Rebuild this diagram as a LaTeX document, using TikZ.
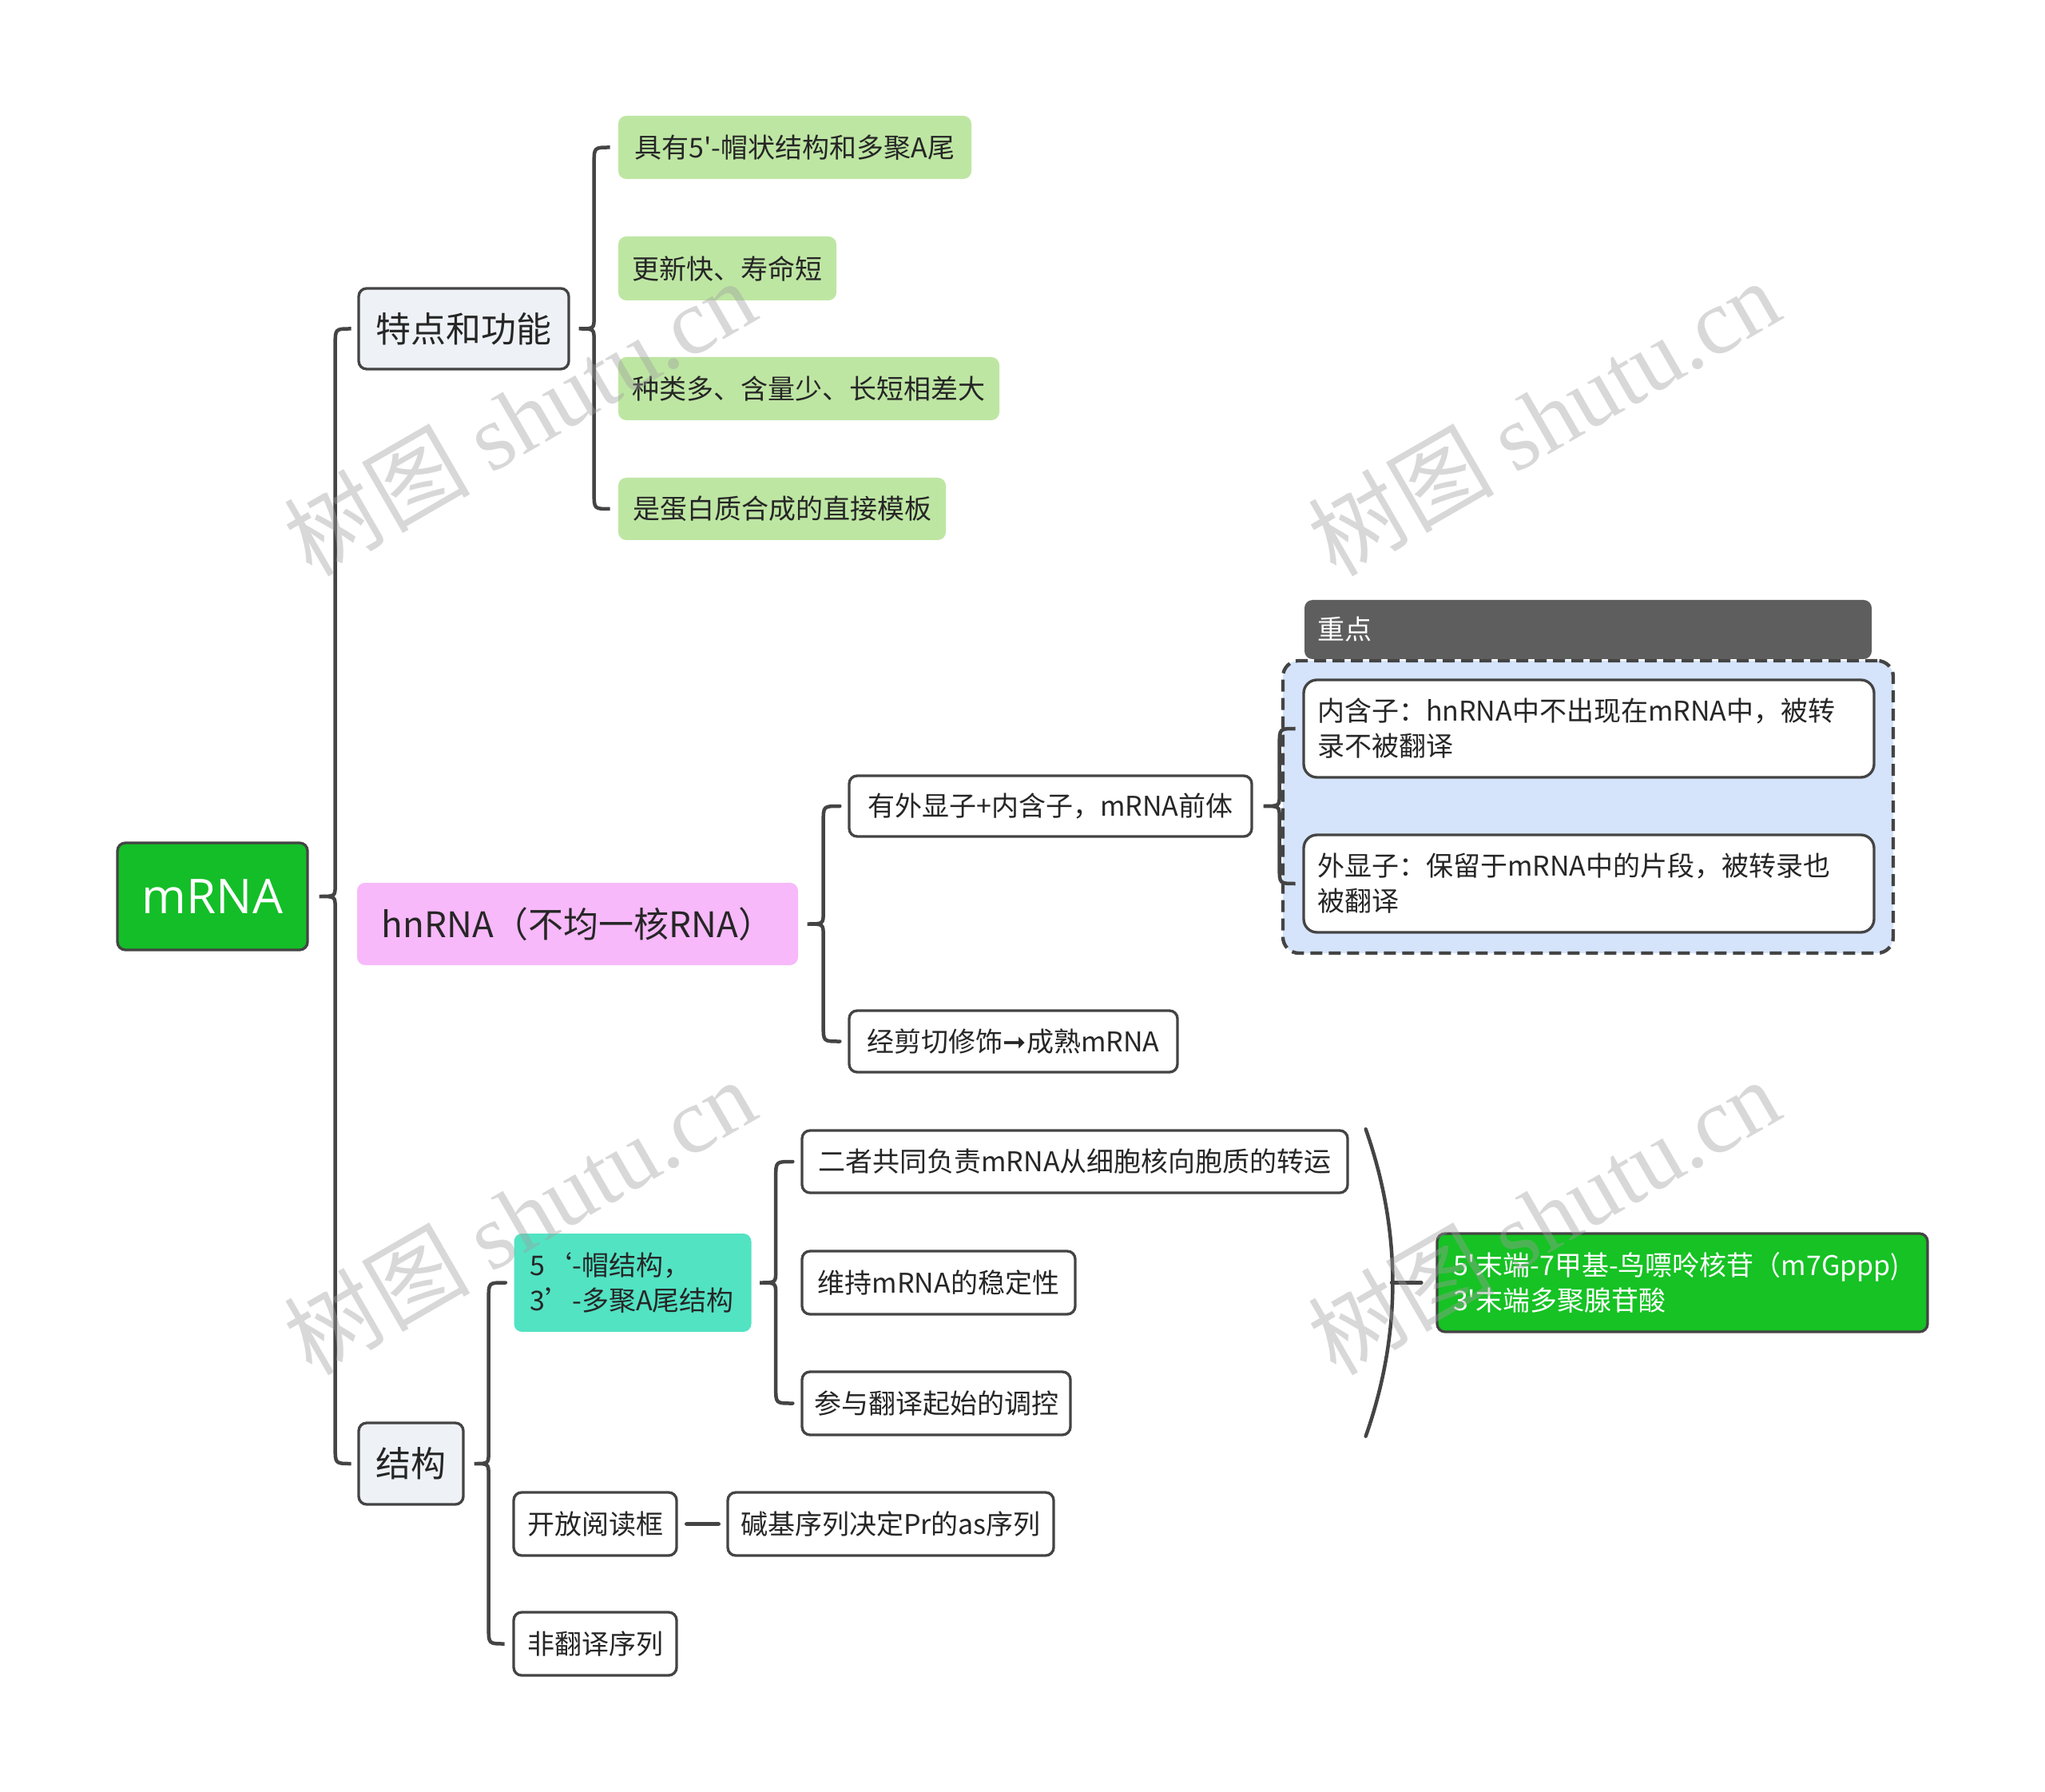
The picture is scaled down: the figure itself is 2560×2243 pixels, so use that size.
\documentclass[tikz,border=0pt]{standalone}
\usepackage{fontspec}
\setmainfont{Noto Sans CJK SC}
\newfontfamily\osans{Open Sans}
\newfontfamily\djv{DejaVu Sans}
\newfontfamily\wmserif{Liberation Serif}
\newfontfamily\wmcjk{Noto Sans CJK SC}
\usetikzlibrary{calc}
\definecolor{lineC}{HTML}{444444}
\definecolor{rootG}{HTML}{14BE28}
\definecolor{endG}{HTML}{16C224}
\definecolor{lvlC}{HTML}{EEF2F6}
\definecolor{pinkC}{HTML}{F7B9F9}
\definecolor{leafG}{HTML}{BEE6A3}
\definecolor{tealC}{HTML}{52E3C3}
\definecolor{grpC}{HTML}{D5E4FB}
\definecolor{hdrC}{HTML}{5E5E5E}
\definecolor{wmC}{HTML}{9E9E9E}
\definecolor{textC}{HTML}{262626}
\newdimen\pxu \pxu=0.3pt
\newcommand\mmbrace[5]{%
  \draw[conn] let \p1=(#1.east), \p2=(#2.west), \p3=(#3.west) in
    (\x2-3pt,\y2) -- (\x1+#5+6pt,\y2) .. controls (\x1+#5,\y2) .. (\x1+#5,\y2-6pt)
    -- (\x1+#5,\y1+4.5pt) .. controls (\x1+#5,\y1) .. (\x1+#4,\y1)
    .. controls (\x1+#5,\y1) .. (\x1+#5,\y1-4.5pt)
    -- (\x1+#5,\y3+6pt) .. controls (\x1+#5,\y3) .. (\x1+#5+6pt,\y3) -- (\x3-3pt,\y3);}
\tikzset{
  base/.style={rounded corners=3pt, inner sep=0pt, align=center, text=textC},
  lvltwo/.style={base, font=\fontsize{10.2}{13.2}\selectfont},
  whitebox/.style={lvltwo, draw=lineC, line width=1pt, fill=white},
  leaf/.style={lvltwo, fill=leafG},
  lvlone/.style={base, font=\fontsize{13.2}{16}\selectfont, draw=lineC, line width=1pt, fill=lvlC},
  conn/.style={draw=lineC, line width=1.35pt, line cap=round},
  wmark/.style={rotate=30, text=wmC, text opacity=0.4, inner sep=0pt},
}
\begin{document}
\begin{tikzpicture}[x=0.3pt, y=-0.3pt]
\useasboundingbox (0,0) rectangle (2560,2243);
\fill[white] (0,0) rectangle (2560,2243);

% root and first level
\node[base, draw=lineC, line width=1pt, fill=rootG, text=white, font=\osans\fontsize{18}{20}\selectfont, minimum width=238\pxu, minimum height=134\pxu] (root) at (266,1122) {mRNA};
\node[lvlone, minimum width=263\pxu, minimum height=101\pxu] (tedian) at (580.5,411.5) {特点和功能};
\node[base, fill=pinkC, font=\fontsize{13.2}{16}\selectfont, minimum width=552\pxu, minimum height=103\pxu] (hn) at (723,1156.5) {hnRNA（不均一核RNA）};
\node[lvlone, minimum width=131\pxu, minimum height=102\pxu] (jg) at (514.5,1832) {结构};

% leaves of 特点和功能
\node[leaf, minimum width=442\pxu, minimum height=79\pxu] (l1) at (995,184.5) {具有5\textquotesingle-帽状结构和多聚A尾};
\node[leaf, minimum width=273\pxu, minimum height=80\pxu] (l2) at (910.5,336) {更新快、寿命短};
\node[leaf, minimum width=477\pxu, minimum height=79\pxu] (l3) at (1012.5,486.5) {种类多、含量少、长短相差大};
\node[leaf, minimum width=410\pxu, minimum height=78\pxu] (l4) at (979,637) {是蛋白质合成的直接模板};

% hnRNA children
\node[whitebox, minimum width=504\pxu, minimum height=76\pxu] (c1) at (1315,1009) {有外显子+内含子，mRNA前体};
\node[whitebox, minimum width=411\pxu, minimum height=77\pxu] (c2) at (1268.5,1303.5) {经剪切修饰{\djv\fontsize{10.5}{12}\selectfont ➞}成熟mRNA};

% summary group
\node[draw=lineC, dash pattern=on 15\pxu off 8\pxu, line width=1.3pt, rounded corners=6pt, fill=grpC, inner sep=0pt, minimum width=764\pxu, minimum height=366\pxu] (grp) at (1988,1010) {};
\node[fill=hdrC, rounded corners=3pt, text=white, font=\fontsize{10.2}{13.2}\selectfont, minimum height=74\pxu, text width=678\pxu, inner xsep=16\pxu, inner ysep=0pt, align=left] (hdr) at (1988,788) {重点};
\node[whitebox, rounded corners=5pt, text width=680\pxu, inner xsep=17\pxu, minimum height=122\pxu, align=left] (in1) at (1989,912) {内含子：hnRNA中不出现在mRNA中，被转\\录不被翻译};
\node[whitebox, rounded corners=5pt, text width=680\pxu, inner xsep=17\pxu, minimum height=122\pxu, align=left] (in2) at (1989,1106) {外显子：保留于mRNA中的片段，被转录也\\被翻译};

% structure branch
\node[lvltwo, fill=tealC, text width=257\pxu, inner xsep=20\pxu, minimum height=123\pxu, align=left] (cap) at (792,1605.5) {5‘-帽结构，\\3’-多聚A尾结构};
\node[whitebox, minimum width=683\pxu, minimum height=78\pxu] (d1) at (1345.5,1454) {二者共同负责mRNA从细胞核向胞质的转运};
\node[whitebox, minimum width=342\pxu, minimum height=79\pxu] (d2) at (1175,1605.5) {维持mRNA的稳定性};
\node[whitebox, minimum width=336\pxu, minimum height=79\pxu] (d3) at (1172,1756.5) {参与翻译起始的调控};
\node[lvltwo, draw=lineC, line width=1pt, fill=endG, text=white, text width=574\pxu, inner xsep=20\pxu, minimum height=123\pxu, align=left] (e) at (2106,1605.5) {\mbox{5\textquotesingle 末端-7甲基-鸟嘌呤核苷（m7Gppp)}\\\mbox{3\textquotesingle 末端多聚腺苷酸}};
\node[whitebox, minimum width=204\pxu, minimum height=79\pxu] (f1) at (745,1907.5) {开放阅读框};
\node[whitebox, minimum width=408\pxu, minimum height=79\pxu] (f2) at (1115,1907.5) {碱基序列决定Pr的as序列};
\node[whitebox, minimum width=204\pxu, minimum height=79\pxu] (f3) at (745,2057.5) {非翻译序列};

% connectors
\mmbrace{root}{tedian}{jg}{3.9pt}{9.9pt}
\mmbrace{tedian}{l1}{l4}{3.3pt}{9pt}
\mmbrace{hn}{c1}{c2}{3.3pt}{9.3pt}
\mmbrace{c1}{in1}{in2}{3.9pt}{9.9pt}
\mmbrace{jg}{cap}{f3}{3.6pt}{9pt}
\mmbrace{cap}{d1}{d3}{3pt}{9pt}
\draw[conn] let \p1=(d1.north east), \p2=(d3.south) in
  (\x1+6.3pt,\y1) .. controls (\x1+19.8pt,{\y1+(\y2-\y1)/3}) and (\x1+19.8pt,{\y2-(\y2-\y1)/3}) .. (\x1+6.3pt,\y2);
\coordinate (pm) at (1742,1605.5);
\draw[conn] (pm) -- ([xshift=-5.4pt]e.west);
\draw[conn, line width=1.6pt] ([xshift=3.3pt]f1.east) -- ([xshift=-3pt]f2.west);

% watermarks
\node[wmark] (wm1) at (650,522) {\wmcjk\fontsize{35}{40}\selectfont 树图 {\wmserif shutu.cn}};
\node[wmark] (wm2) at (1932,522) {\wmcjk\fontsize{35}{40}\selectfont 树图 {\wmserif shutu.cn}};
\node[wmark] (wm3) at (650,1522) {\wmcjk\fontsize{35}{40}\selectfont 树图 {\wmserif shutu.cn}};
\node[wmark] (wm4) at (1932,1522) {\wmcjk\fontsize{35}{40}\selectfont 树图 {\wmserif shutu.cn}};
\end{tikzpicture}
\end{document}
